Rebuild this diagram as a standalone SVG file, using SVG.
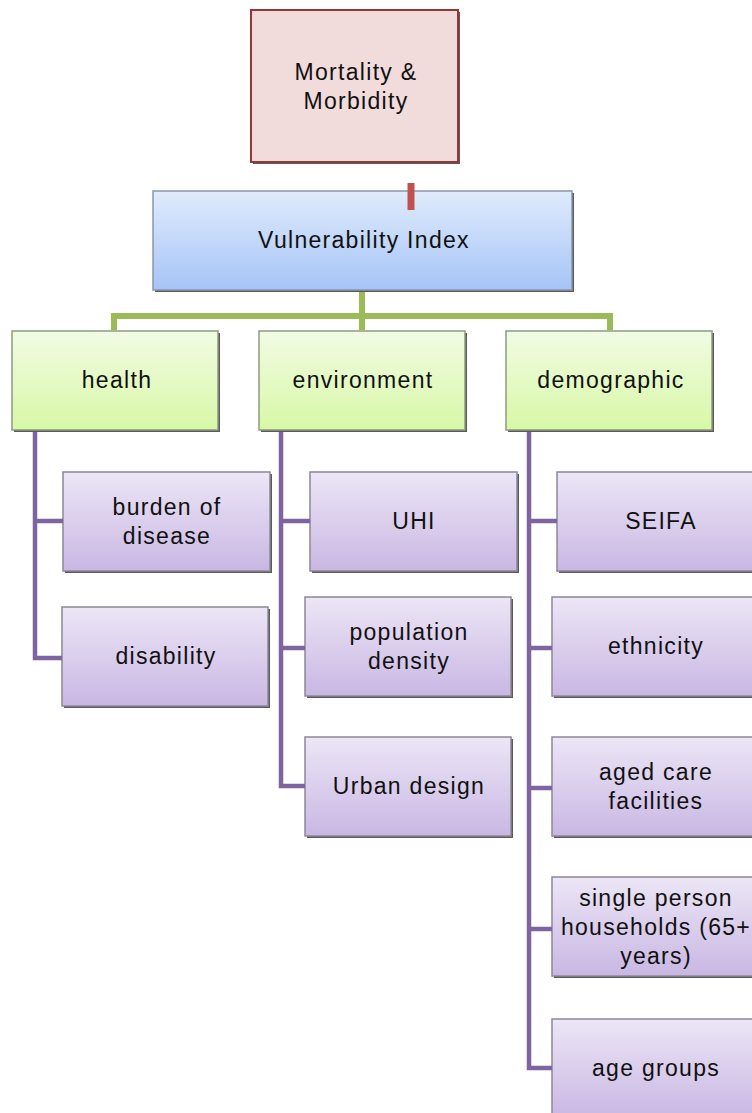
<svg xmlns="http://www.w3.org/2000/svg" width="752" height="1113" viewBox="0 0 752 1113">
<defs>
<linearGradient id="gRed" x1="0" y1="0" x2="0" y2="1"><stop offset="0" stop-color="#f2dcdb"/><stop offset="1" stop-color="#f2dcdb"/></linearGradient>
<linearGradient id="gBlue" x1="0" y1="0" x2="0" y2="1"><stop offset="0" stop-color="#e0ebfc"/><stop offset="1" stop-color="#a5c4f7"/></linearGradient>
<linearGradient id="gGreen" x1="0" y1="0" x2="0" y2="1"><stop offset="0" stop-color="#f2fbe4"/><stop offset="1" stop-color="#d7f8a6"/></linearGradient>
<linearGradient id="gPurple" x1="0" y1="0" x2="0" y2="1"><stop offset="0" stop-color="#ece6f6"/><stop offset="1" stop-color="#c9b7e3"/></linearGradient>
</defs>
<style>
text{font-family:"Liberation Sans",Arial,sans-serif;font-size:23px;letter-spacing:1.3px;fill:#111;text-anchor:middle}
.sh{fill:#5a5a5a}
.red{fill:url(#gRed);stroke:#953735;stroke-width:2}
.blue{fill:url(#gBlue);stroke:#8a96a8;stroke-width:1.5}
.green{fill:url(#gGreen);stroke:#8e9a80;stroke-width:1.5}
.purple{fill:url(#gPurple);stroke:#8c8898;stroke-width:1.5}
.cg{fill:none;stroke:#9bbb59;stroke-width:6}
.cp{fill:none;stroke:#8064a2;stroke-width:4.5}
</style>
<rect width="752" height="1113" fill="#ffffff"/>
<g id="mortality">
<rect class="sh" x="253" y="12" width="207" height="152"/>
<rect class="red" x="251" y="10" width="207" height="152"/>
<text x="356" y="80">Mortality &amp;</text>
<text x="356" y="109">Morbidity</text>
</g>
<g id="vulnerability">
<rect class="sh" x="155" y="193" width="419" height="99"/>
<rect class="blue" x="153" y="191" width="419" height="99"/>
<text x="364" y="248">Vulnerability Index</text>
</g>
<g id="health">
<rect class="sh" x="14" y="333" width="206" height="99"/>
<rect class="green" x="12" y="331" width="206" height="99"/>
<text x="117" y="388">health</text>
</g>
<g id="environment">
<rect class="sh" x="261" y="333" width="206" height="99"/>
<rect class="green" x="259" y="331" width="206" height="99"/>
<text x="363" y="388">environment</text>
</g>
<g id="demographic">
<rect class="sh" x="508" y="333" width="206" height="99"/>
<rect class="green" x="506" y="331" width="206" height="99"/>
<text x="611" y="388">demographic</text>
</g>
<g id="burden">
<rect class="sh" x="65" y="474" width="207" height="99"/>
<rect class="purple" x="63" y="472" width="207" height="99"/>
<text x="167" y="515">burden of</text>
<text x="167" y="544">disease</text>
</g>
<g id="disability">
<rect class="sh" x="64" y="609" width="206" height="99"/>
<rect class="purple" x="62" y="607" width="206" height="99"/>
<text x="166" y="664">disability</text>
</g>
<g id="uhi">
<rect class="sh" x="312" y="474" width="207" height="99"/>
<rect class="purple" x="310" y="472" width="207" height="99"/>
<text x="414" y="529">UHI</text>
</g>
<g id="popdensity">
<rect class="sh" x="307" y="599" width="206" height="99"/>
<rect class="purple" x="305" y="597" width="206" height="99"/>
<text x="409" y="640">population</text>
<text x="409" y="669">density</text>
</g>
<g id="urban">
<rect class="sh" x="307" y="739" width="206" height="99"/>
<rect class="purple" x="305" y="737" width="206" height="99"/>
<text x="409" y="794">Urban design</text>
</g>
<g id="seifa">
<rect class="sh" x="559" y="474" width="207" height="99"/>
<rect class="purple" x="557" y="472" width="207" height="99"/>
<text x="661" y="529">SEIFA</text>
</g>
<g id="ethnicity">
<rect class="sh" x="554" y="599" width="206" height="99"/>
<rect class="purple" x="552" y="597" width="206" height="99"/>
<text x="656" y="654">ethnicity</text>
</g>
<g id="agedcare">
<rect class="sh" x="554" y="739" width="206" height="99"/>
<rect class="purple" x="552" y="737" width="206" height="99"/>
<text x="656" y="780">aged care</text>
<text x="656" y="809">facilities</text>
</g>
<g id="single">
<rect class="sh" x="554" y="879" width="206" height="99"/>
<rect class="purple" x="552" y="877" width="206" height="99"/>
<text x="656" y="906">single person</text>
<text x="656" y="935">households (65+</text>
<text x="656" y="964">years)</text>
</g>
<g id="agegroups">
<rect class="sh" x="554" y="1021" width="206" height="99"/>
<rect class="purple" x="552" y="1019" width="206" height="99"/>
<text x="656" y="1076">age groups</text>
</g>
<g id="connectors">
<line x1="411" y1="183" x2="411" y2="210" stroke="#c0504d" stroke-width="7"/>
<polyline class="cg" points="362,292 362,316"/>
<polyline class="cg" points="114,330 114,316 610,316 610,330"/>
<line class="cg" x1="362" y1="316" x2="362" y2="330"/>
<polyline class="cp" points="35,432 35,658 62,658"/>
<line class="cp" x1="35" y1="521" x2="63" y2="521"/>
<polyline class="cp" points="281,432 281,786 305,786"/>
<line class="cp" x1="281" y1="521" x2="310" y2="521"/>
<line class="cp" x1="281" y1="648" x2="305" y2="648"/>
<polyline class="cp" points="529,432 529,1068 552,1068"/>
<line class="cp" x1="529" y1="521" x2="557" y2="521"/>
<line class="cp" x1="529" y1="648" x2="552" y2="648"/>
<line class="cp" x1="529" y1="788" x2="552" y2="788"/>
<line class="cp" x1="529" y1="929" x2="552" y2="929"/>
</g>
</svg>
